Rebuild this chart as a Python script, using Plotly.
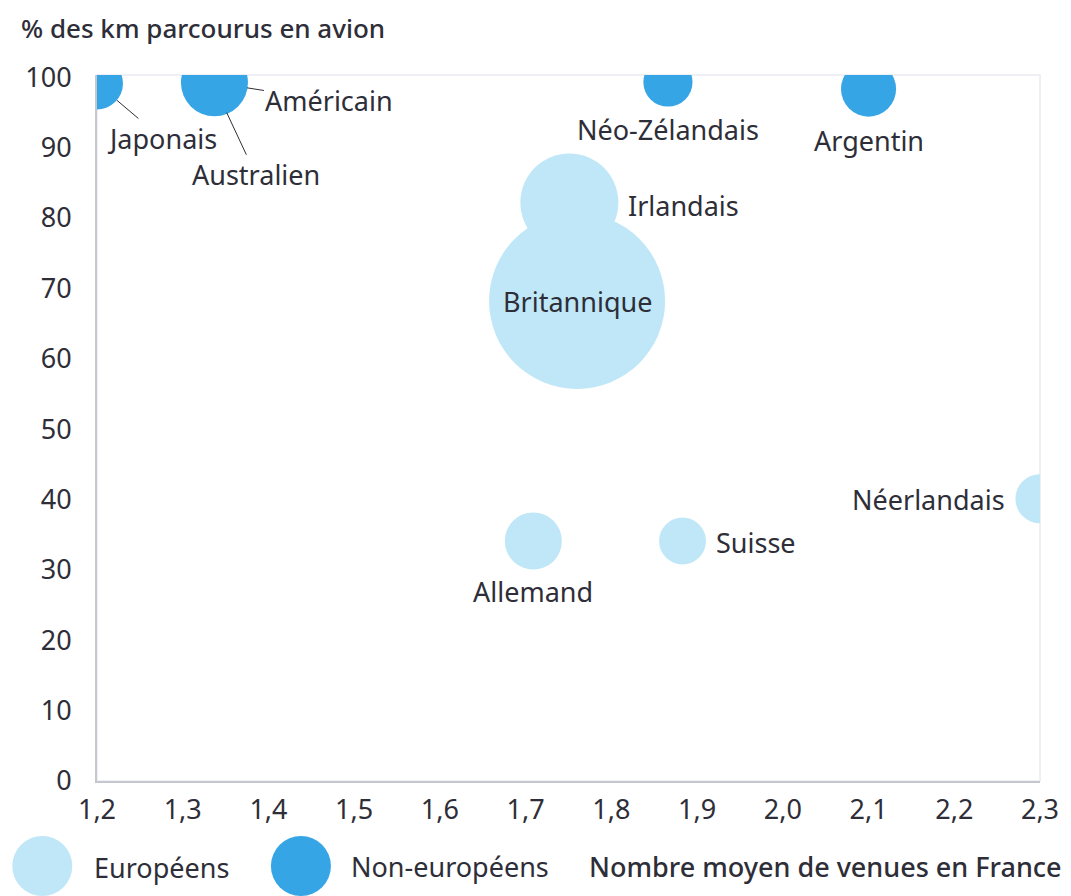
import plotly.graph_objects as go

# Data
pays = ['Japonais', 'Australien', 'Américain', 'Néo-Zélandais', 'Argentin',
        'Irlandais', 'Britannique', 'Allemand', 'Suisse', 'Néerlandais']
groupe = ['non', 'non', 'non', 'non', 'non', 'eu', 'eu', 'eu', 'eu', 'eu']
venues = [1.2, 1.335, 1.337, 1.866, 2.1, 1.751, 1.76, 1.709, 1.883, 2.3]
pct_avion = [99.1, 99.2, 99.2, 99.3, 98.3, 82.2, 68.2, 34.1, 34.1, 40.1]
poids = [8.7, 9.8, 14.5, 7.8, 9.8, 31, 100, 10.5, 7.1, 7.8]

x_ticks = [1.2, 1.3, 1.4, 1.5, 1.6, 1.7, 1.8, 1.9, 2.0, 2.1, 2.2, 2.3]
y_ticks = [0, 10, 20, 30, 40, 50, 60, 70, 80, 90, 100]

CLAIR = '#bfe7f7'
FONCE = '#36a5e6'
TEXTE = '#2e2e38'
FONT = 'Noto Sans'
FS = 27

sizeref = 2.0 * max(poids) / (176 ** 2)

fig = go.Figure()
for g, col in [('eu', CLAIR), ('non', FONCE)]:
    idx = [i for i, v in enumerate(groupe) if v == g]
    fig.add_trace(go.Scatter(
        x=[venues[i] for i in idx],
        y=[pct_avion[i] for i in idx],
        text=[pays[i] for i in idx],
        mode='markers',
        marker=dict(size=[poids[i] for i in idx], sizemode='area', sizeref=sizeref,
                    color=col, opacity=1, line=dict(width=0)),
        hoverinfo='text', showlegend=False,
    ))

# label placement (pixel offsets from the bubble centre)
place = {
    'Japonais': dict(arrow=True, ax=65, ay=55, standoff=26),
    'Américain': dict(arrow=True, ax=115, ay=18, standoff=33),
    'Australien': dict(arrow=True, ax=43, ay=92, standoff=33),
    'Néo-Zélandais': dict(xanchor='center', dx=0, dy=-47),
    'Argentin': dict(xanchor='center', dx=0, dy=-51),
    'Irlandais': dict(xanchor='left', dx=57, dy=-3),
    'Britannique': dict(xanchor='center', dx=0, dy=-1),
    'Allemand': dict(xanchor='center', dx=0, dy=-51),
    'Suisse': dict(xanchor='left', dx=31, dy=-2),
    'Néerlandais': dict(xanchor='right', dx=-33, dy=-1),
}
for name, xv, yv in zip(pays, venues, pct_avion):
    p = place[name]
    if p.get('arrow'):
        fig.add_annotation(x=xv, y=yv, text=name, showarrow=True, arrowhead=0,
                           arrowwidth=1, arrowcolor=TEXTE, ax=p['ax'], ay=p['ay'],
                           standoff=p['standoff'], font=dict(size=FS, color=TEXTE, family=FONT))
    else:
        fig.add_annotation(x=xv, y=yv, text=name, showarrow=False, xanchor=p['xanchor'],
                           yanchor='middle', xshift=p['dx'], yshift=p['dy'],
                           font=dict(size=FS, color=TEXTE, family=FONT))

# frame
fig.add_shape(type='rect', xref='paper', yref='paper', x0=0, x1=1, y0=0, y1=1,
              line=dict(color='#eef0f6', width=2), layer='below')

# custom legend (positions in page pixels, converted to paper units)
def px(x):
    return (x - 97) / 948

def py(y):
    return (781 - y) / 706

for cx, col in [(42, CLAIR), (302, FONCE)]:
    fig.add_shape(type='circle', xref='paper', yref='paper', xsizemode='pixel', ysizemode='pixel',
                  xanchor=px(cx), yanchor=py(866),
                  x0=-30, x1=30, y0=-30, y1=30, fillcolor=col, line=dict(width=0))
fig.add_annotation(xref='paper', yref='paper', x=px(92), y=py(868), text='Européens',
                   showarrow=False, xanchor='left', yanchor='middle',
                   font=dict(size=FS, color=TEXTE, family=FONT))
fig.add_annotation(xref='paper', yref='paper', x=px(350), y=py(866), text='Non-européens',
                   showarrow=False, xanchor='left', yanchor='middle',
                   font=dict(size=FS, color=TEXTE, family=FONT))
fig.add_annotation(xref='paper', yref='paper', x=px(1069), y=py(866),
                   text='Nombre moyen de venues en France', showarrow=False,
                   xanchor='right', yanchor='middle',
                   font=dict(size=FS, color=TEXTE, family=FONT, weight=500))
fig.add_annotation(xref='paper', yref='paper', x=px(20), y=py(28),
                   text='% des km parcourus en avion', showarrow=False,
                   xanchor='left', yanchor='middle', borderpad=0,
                   font=dict(size=26, color=TEXTE, family=FONT, weight=500))

# the page body has an 8px margin, so the figure is 8px smaller and shifted
fig.update_layout(
    width=1063, height=888,
    margin=dict(l=89, r=26, t=67, b=115),
    plot_bgcolor='white', paper_bgcolor='white',
    separators=', ',
    font=dict(family=FONT, color=TEXTE, size=FS),
)
fig.update_xaxes(range=[1.2, 2.3], tickvals=x_ticks, tickformat='.1f', showgrid=False,
                 zeroline=False, showline=True, linecolor='#c6c6ce', linewidth=2,
                 ticks='', ticklabelstandoff=4, tickfont=dict(size=FS, color=TEXTE))
fig.update_yaxes(range=[0, 100.3], tickvals=y_ticks, showgrid=False, zeroline=False,
                 showline=True, linecolor='#c6c6ce', linewidth=2, ticks='',
                 ticklabelstandoff=18, tickfont=dict(size=FS, color=TEXTE))

fig.write_html('out.html')
